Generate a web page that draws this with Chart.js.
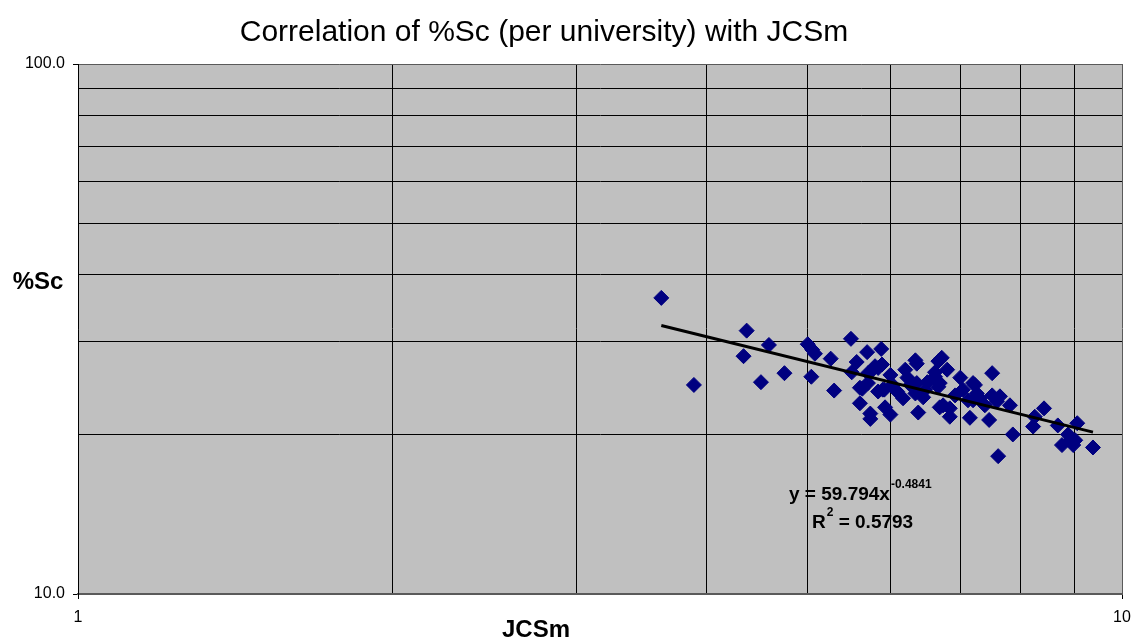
<!DOCTYPE html>
<html lang="en">
<head>
  <meta charset="UTF-8" />
  <title>Correlation of %Sc (per university) with JCSm</title>
  <script src="https://cdn.jsdelivr.net/npm/chart.js"></script>
  <style>
    body { margin: 0; background: #fff; }
    canvas { display: block; }
  </style>
</head>
<body>
  <canvas id="scChart" width="1134" height="642"></canvas>

  <script>
    // JCSm (x) and %Sc (y) per university
    const jcsm = [
      3.62, 3.89, 4.37, 4.34, 4.59, 4.51, 4.75, 5.00, 5.05, 5.08,
      5.04, 5.26, 5.30, 5.50, 5.57, 5.70, 5.88, 5.51, 5.61, 5.61,
      5.74, 5.74, 5.80, 5.89, 5.71, 6.00, 5.71, 5.84, 5.92, 6.09,
      5.93, 6.00, 6.20, 6.34, 6.36, 6.23, 6.36, 6.17, 6.34, 6.45,
      6.38, 6.51, 6.67, 6.72, 6.62, 6.80, 6.62, 6.69, 6.67, 6.69,
      6.74, 6.84, 6.84, 7.00, 7.04, 7.23, 7.20, 7.20, 7.12, 7.15,
      7.26, 7.51, 7.51, 7.59, 7.46, 7.81, 7.86, 7.61, 8.42, 8.25,
      8.22, 8.68, 9.06, 8.88, 9.02, 8.76, 8.98, 9.38, 5.77, 5.84,
      5.64, 5.90, 6.03, 6.92, 7.31, 6.48, 6.27, 7.39, 7.64, 8.92
    ];
    const pctSc = [
      36.2, 24.8, 31.4, 28.1, 29.5, 25.1, 26.1, 29.6, 28.9, 28.4,
      25.7, 27.8, 24.2, 30.3, 27.4, 28.6, 29.0, 26.2, 24.5, 22.9,
      21.9, 21.4, 26.9, 27.1, 26.1, 25.9, 25.0, 24.1, 24.3, 24.1,
      22.5, 21.8, 26.5, 27.6, 27.2, 25.6, 25.0, 23.4, 23.9, 23.5,
      22.0, 25.1, 27.5, 27.9, 26.2, 26.5, 25.7, 25.0, 24.6, 22.5,
      22.7, 22.4, 21.6, 25.6, 24.3, 24.8, 25.0, 23.2, 23.2, 21.5,
      23.9, 26.1, 23.7, 23.1, 21.3, 22.7, 20.0, 18.2, 22.4, 21.6,
      20.7, 20.8, 21.0, 20.0, 19.5, 19.1, 19.1, 18.9, 26.5, 26.7,
      24.4, 24.3, 24.8, 23.7, 23.4, 24.3, 24.8, 22.7, 23.6, 19.5
    ];

    // power trendline (y = 59.794x^-0.4841), its two end points
    const trendX = [3.62, 9.38];
    const trendY = [32.1, 20.2];

    const xTicks = [1, 2, 3, 4, 5, 6, 7, 8, 9, 10];
    const yTicks = [10, 20, 30, 40, 50, 60, 70, 80, 90, 100];
    const xLabelled = [1, 10];
    const yLabelled = [10, 100];

    const FONT = '"Liberation Sans", Arial, sans-serif';

    const points = jcsm.map((x, i) => ({ x, y: pctSc[i] }));
    const trend = trendX.map((x, i) => ({ x, y: trendY[i] }));

    // grey plot area
    const plotBg = {
      id: 'plotBg',
      beforeDraw(chart) {
        const { ctx, chartArea: a } = chart;
        ctx.save();
        ctx.fillStyle = '#c0c0c0';
        ctx.fillRect(a.left, a.top, a.right - a.left, a.bottom - a.top);
        ctx.restore();
      }
    };

    // title, axis titles and the trendline equation
    const texts = {
      id: 'texts',
      afterDraw(chart) {
        const ctx = chart.ctx;
        ctx.save();
        ctx.fillStyle = '#000';
        ctx.textBaseline = 'alphabetic';

        ctx.textAlign = 'center';
        ctx.font = '30px ' + FONT;
        ctx.fillText('Correlation of %Sc (per university) with JCSm', 544, 41);

        ctx.font = 'bold 24px ' + FONT;
        ctx.fillText('%Sc', 38, 289);
        ctx.fillText('JCSm', 536, 637);

        ctx.textAlign = 'left';
        ctx.font = 'bold 19px ' + FONT;
        let s = 'y = 59.794x';
        ctx.fillText(s, 789, 500);
        let w = ctx.measureText(s).width;
        ctx.font = 'bold 12px ' + FONT;
        ctx.fillText('-0.4841', 789 + w + 1, 488);

        ctx.font = 'bold 19px ' + FONT;
        ctx.fillText('R', 812, 528);
        w = ctx.measureText('R').width;
        ctx.font = 'bold 12px ' + FONT;
        ctx.fillText('2', 812 + w + 1, 516);
        const w2 = ctx.measureText('2').width;
        ctx.font = 'bold 19px ' + FONT;
        ctx.fillText(' = 0.5793', 812 + w + w2 + 1, 528);
        ctx.restore();
      }
    };

    const edgeColor = (ctx, lo, hi, mid) => {
      const v = ctx.tick && ctx.tick.value;
      return (v === lo || v === hi) ? '#5a5a5a' : mid;
    };

    new Chart(document.getElementById('scChart'), {
      type: 'scatter',
      data: {
        datasets: [
          {
            label: 'Trend',
            data: trend,
            showLine: true,
            borderColor: '#000',
            borderWidth: 3,
            pointRadius: 0,
            fill: false,
            order: 0
          },
          {
            label: '%Sc',
            data: points,
            pointStyle: 'rectRot',
            pointRadius: 7.5,
            pointBackgroundColor: '#000080',
            pointBorderColor: '#000080',
            pointBorderWidth: 1,
            order: 1
          }
        ]
      },
      options: {
        responsive: false,
        animation: false,
        layout: { padding: { top: 64, right: 12, left: 0, bottom: 0 } },
        plugins: {
          legend: { display: false },
          title: { display: false },
          tooltip: { enabled: false }
        },
        scales: {
          x: {
            type: 'logarithmic',
            min: 1,
            max: 10,
            afterBuildTicks: s => { s.ticks = xTicks.map(v => ({ value: v })); },
            afterFit: s => { s.height = 48; s.paddingLeft = 0; s.paddingRight = 0; },
            border: { display: true, color: '#5a5a5a', width: 2 },
            grid: {
              color: c => edgeColor(c, 1, 10, '#000'),
              lineWidth: 1,
              tickLength: 5,
              tickColor: c => xLabelled.includes(c.tick && c.tick.value) ? '#000' : 'rgba(0,0,0,0)'
            },
            ticks: {
              autoSkip: false,
              maxRotation: 0,
              padding: 9,
              color: '#000',
              font: { family: FONT, size: 16 },
              callback: v => xLabelled.includes(v) ? String(v) : ''
            }
          },
          y: {
            type: 'logarithmic',
            min: 10,
            max: 100,
            afterBuildTicks: s => { s.ticks = yTicks.map(v => ({ value: v })); },
            afterFit: s => { s.width = 78; s.paddingTop = 0; s.paddingBottom = 0; },
            border: { display: true, color: '#000', width: 1 },
            grid: {
              color: c => edgeColor(c, 10, 100, '#000'),
              lineWidth: 1,
              tickLength: 5,
              tickColor: c => yLabelled.includes(c.tick && c.tick.value) ? '#000' : 'rgba(0,0,0,0)'
            },
            ticks: {
              autoSkip: false,
              padding: 8,
              color: '#000',
              font: { family: FONT, size: 16 },
              callback: v => yLabelled.includes(v) ? v.toFixed(1) : ''
            }
          }
        }
      },
      plugins: [plotBg, texts]
    });
  </script>
</body>
</html>
